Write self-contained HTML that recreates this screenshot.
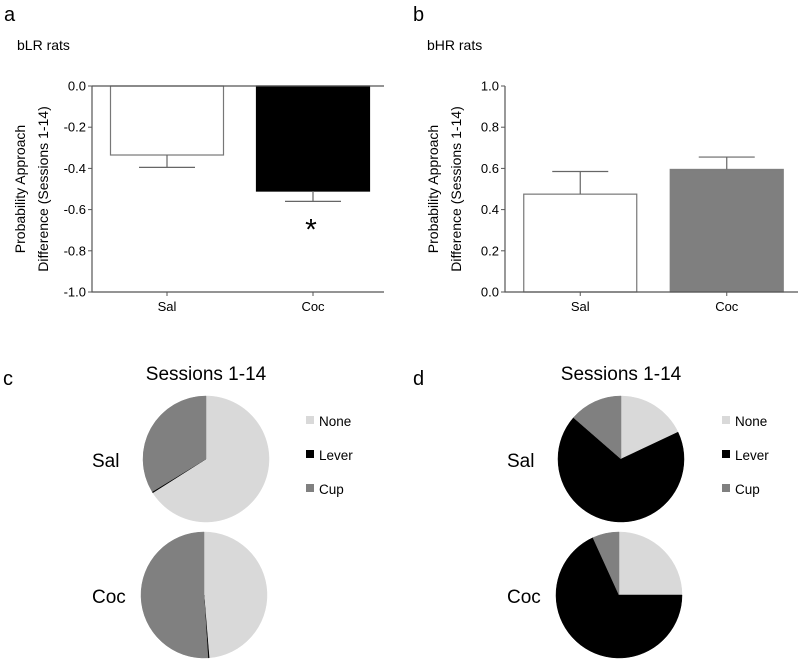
<!DOCTYPE html>
<html><head><meta charset="utf-8"><style>
html,body{margin:0;padding:0;background:#fff;}
svg{display:block;font-family:"Liberation Sans",Arial,sans-serif;}
</style></head><body>
<svg id="fig" width="800" height="659" viewBox="0 0 800 659" xmlns="http://www.w3.org/2000/svg">
<text x="4" y="21" font-size="20">a</text>
<text x="17" y="50" font-size="14">bLR rats</text>
<text x="413" y="21" font-size="20">b</text>
<text x="427" y="50" font-size="14">bHR rats</text>
<text x="3" y="385" font-size="20">c</text>
<text x="413" y="385" font-size="20">d</text>
<g id="charts"></g>
</svg>
<script>
const barCats = ["Sal","Coc"];
const aValues = [-0.335,-0.51];
const aErrors = [0.06,0.05];
const bValues = [0.475,0.595];
const bErrors = [0.11,0.06];
const aTicks = ["0.0","-0.2","-0.4","-0.6","-0.8","-1.0"];
const bTicks = ["0.0","0.2","0.4","0.6","0.8","1.0"];
const pieCats = ["None","Lever","Cup"];
const cSal = [0.66,0.003,0.337];
const cCoc = [0.487,0.003,0.51];
const dSal = [0.18,0.684,0.136];
const dCoc = [0.25,0.682,0.068];

const NS="http://www.w3.org/2000/svg";
const root=document.getElementById('charts');
function mk(tag,attrs,parent,text){const e=document.createElementNS(NS,tag);for(const k in attrs)e.setAttribute(k,attrs[k]);if(text!==undefined)e.textContent=text;(parent||root).appendChild(e);return e;}

function barPanel(px,axisRight,ymin,ymax,ticks,values,errors,fills,prefix){
  const top=86,bot=292;
  const y=v=>top+(ymax-v)/(ymax-ymin)*(bot-top);
  const g=mk('g',{});
  
  
  const bw=113, slot=(axisRight-px)/2;
  values.forEach((v,i)=>{
    const cx=px+slot*(i+0.5)+2;
    const base=y(0), yv=y(v);
    const r=mk('rect',{x:cx-bw/2,y:Math.min(base,yv),width:bw,height:Math.abs(yv-base),fill:fills[i],stroke:fills[i]==='#ffffff'?'#777':fills[i],'stroke-width':1.2},g);
    
    
    const ev=v<0?v-errors[i]:v+errors[i];
    const e=mk('path',{d:`M${cx},${yv}V${y(ev)}M${cx-28},${y(ev)}H${cx+28}`,stroke:'#666','stroke-width':1.2,fill:'none'},g);
    
    
    mk('path',{d:`M${cx},${bot}v4`,stroke:'#555'},g);
    const l=mk('text',{x:cx,y:bot+19,'font-size':13,'text-anchor':'middle'},g,barCats[i]);
    
    
  });
  mk('path',{d:`M${px},${top}V${bot}H${axisRight}`,stroke:'#555','stroke-width':1.2,fill:'none'},g);
  if(ymax===0) mk('path',{d:`M${px},${top}H${axisRight}`,stroke:'#555','stroke-width':1.2},g);
  ticks.forEach((tk)=>{
    const v=parseFloat(tk), yy=y(v);
    mk('path',{d:`M${px-4},${yy}H${px}`,stroke:'#555'},g);
    const tl=mk('text',{x:px-6,y:yy+4.5,'font-size':13,'text-anchor':'end'},g,tk);
    
    
  });
  const yt=mk('text',{transform:`translate(${px-67},${(top+bot)/2}) rotate(-90)`,'font-size':14,'text-anchor':'middle'},g);
  
  
  mk('tspan',{x:0,dy:0},yt,'Probability Approach');
  mk('tspan',{x:0,dy:23},yt,'Difference (Sessions 1-14)');
  return {g,y};
}
const A=barPanel(92,384,-1,0,aTicks,aValues,aErrors,['#ffffff','#000000'],'panel-a');
const star=mk('text',{x:311,y:A.y(aValues[1]-aErrors[1])+38,'font-size':30,'text-anchor':'middle'},A.g,'*');


barPanel(505,798,0,1,bTicks,bValues,bErrors,['#ffffff','#7f7f7f'],'panel-b');

const pieColors=['#d9d9d9','#000000','#808080'];
function pie(cx,cy,r,vals,name){
  const g=mk('g',{});
  
  
  const tot=vals.reduce((a,b)=>a+b,0);
  let a0=0;
  vals.forEach((v,i)=>{
    const a1=a0+v/tot*2*Math.PI;
    const x0=cx+r*Math.sin(a0),y0=cy-r*Math.cos(a0),x1=cx+r*Math.sin(a1),y1=cy-r*Math.cos(a1);
    const p=mk('path',{d:`M${cx},${cy}L${x0},${y0}A${r},${r} 0 ${a1-a0>Math.PI?1:0} 1 ${x1},${y1}Z`,fill:pieColors[i],stroke:pieColors[i],'stroke-width':0.5},g);
    
    
    a0=a1;
  });
}
function piePanel(ox,centerX,sal,coc,legX,prefix){
  const t=mk('text',{x:centerX,y:380,'font-size':19,'text-anchor':'middle'},root,'Sessions 1-14');
  
  
  pie(centerX,459,63,sal,prefix+'-pie-sal');
  pie(centerX-2,595,63,coc,prefix+'-pie-coc');
  const s=mk('text',{x:ox,y:467,'font-size':19},root,'Sal');
  
  
  const c=mk('text',{x:ox,y:603,'font-size':19},root,'Coc');
  
  
  pieCats.forEach((cat,i)=>{
    const yy=421+i*34;
    const lg=mk('g',{},root);
    
    
    mk('rect',{x:legX,y:yy-5,width:8,height:8,fill:pieColors[i]},lg);
    mk('text',{x:legX+13,y:yy+5,'font-size':13.5},lg,cat);
  });
}
piePanel(92,206,cSal,cCoc,306,'panel-c');
piePanel(507,621,dSal,dCoc,722,'panel-d');
</script>
</body></html>
